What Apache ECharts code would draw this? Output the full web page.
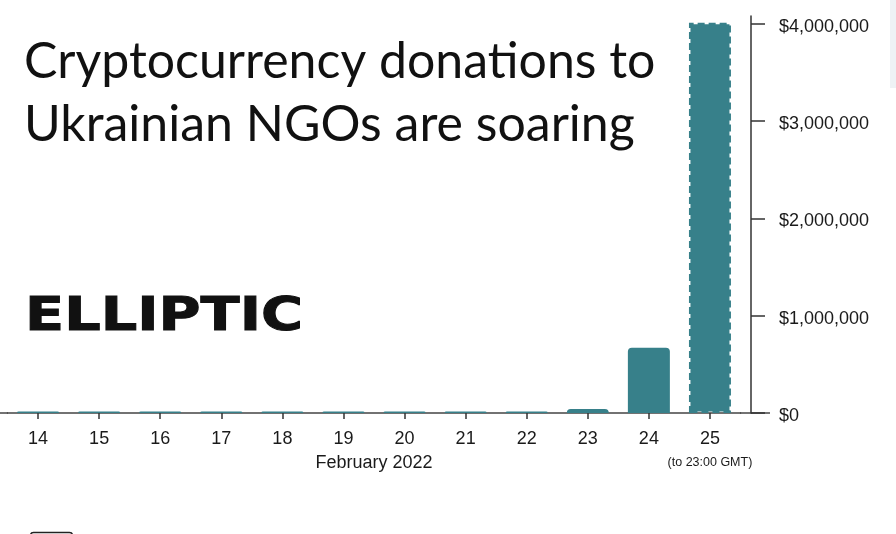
<!DOCTYPE html>
<html>
<head>
<meta charset="utf-8">
<script src="https://cdn.jsdelivr.net/npm/echarts@6/dist/echarts.min.js"></script>
<style>
html,body{margin:0;padding:0;background:#fff;}
#chart{width:896px;height:534px;}
</style>
</head>
<body>
<div id="chart"></div>
<script>
const days = ['14','15','16','17','18','19','20','21','22','23','24','25'];
const donations = [15000, 15000, 15000, 15000, 15000, 15000, 15000, 15000, 15000, 40000, 670000, 4010000];
const yTicks = [0, 1000000, 2000000, 3000000, 4000000];
const titleText = 'Cryptocurrency donations to\nUkrainian NGOs are soaring';
const xAxisName = 'February 2022';
const lastNote = '(to 23:00 GMT)';

const teal = '#37808a';
const chart = echarts.init(document.getElementById('chart'));

const fmt = v => '$' + v.toString().replace(/\B(?=(\d{3})+(?!\d))/g, ',');

const seriesData = donations.map((v, i) => {
  if (i === donations.length - 1) {
    return {
      value: v,
      itemStyle: {
        color: teal,
        borderColor: teal,
        borderWidth: 3,
        borderType: [7, 4],
        borderRadius: 0
      }
    };
  }
  return v;
});

chart.setOption({
  animation: false,
  backgroundColor: '#ffffff',
  grid: { left: 7.5, right: 155.5, top: 16, bottom: 121 },
  xAxis: {
    type: 'category',
    data: days,
    name: xAxisName,
    nameLocation: 'middle',
    nameGap: 41,
    nameMoveOverlap: false,
    nameTextStyle: { fontFamily: 'Liberation Sans', fontSize: 18, color: '#1a1a1a' },
    axisLine: { show: true, lineStyle: { color: '#444', width: 1.5 } },
    axisTick: { show: true, interval: 0, alignWithLabel: true, length: 6, lineStyle: { color: '#333', width: 1.5 } },
    axisLabel: {
      interval: 0,
      margin: 17,
      fontFamily: 'Liberation Sans',
      fontSize: 18,
      color: '#1a1a1a',
      formatter: (v, i) => i === days.length - 1 ? v + '\n{s|' + lastNote + '}' : v,
      rich: {
        s: { fontFamily: 'Liberation Sans', fontSize: 12.5, color: '#1a1a1a', padding: [8, 0, 0, 0] }
      }
    }
  },
  yAxis: {
    type: 'value',
    position: 'right',
    offset: 10.5,
    min: 0,
    max: 4080000,
    splitLine: { show: false },
    axisLine: { show: true, lineStyle: { color: '#333', width: 1.5 } },
    axisTick: { show: true, length: 14, customValues: yTicks, lineStyle: { color: '#333', width: 1.5 } },
    axisLabel: {
      customValues: yTicks,
      margin: 28,
      fontFamily: 'Liberation Sans',
      fontSize: 18,
      color: '#1a1a1a',
      formatter: v => '{a|' + fmt(v) + '}',
      rich: {
        a: { fontFamily: 'Liberation Sans', fontSize: 18, color: '#1a1a1a', padding: [6, 0, 0, 0] }
      }
    }
  },
  series: [{
    type: 'bar',
    data: seriesData,
    barWidth: 42,
    itemStyle: { color: teal, borderRadius: [4, 4, 0, 0] }
  }],
  graphic: [
    {
      type: 'text', left: 24, top: 30, silent: true,
      style: { text: titleText, fontFamily: 'Lato', fontSize: 50, lineHeight: 63, fill: '#111' }
    },
    {
      type: 'text', x: 25, y: 294, scaleX: 1.22, silent: true,
      style: { text: 'ELLIPTIC', fontFamily: 'DejaVu Sans', fontWeight: 'bold', fontSize: 47, fill: '#111', stroke: '#111', lineWidth: 1, textVerticalAlign: 'top' }
    },
    {
      type: 'rect', right: 0, top: 0, silent: true,
      shape: { width: 6, height: 88 },
      style: { fill: '#eef2f5' }
    },
    {
      type: 'rect', left: 28, top: 530, silent: true,
      shape: { width: 42, height: 12, r: 3 },
      style: { fill: 'none', stroke: '#222', lineWidth: 1.5 }
    }
  ]
});

// extend the baseline beyond the plot area, as in the reference
const p0 = chart.convertToPixel({ xAxisIndex: 0, yAxisIndex: 0 }, [0, 0]);
const y0 = p0[1];
chart.setOption({
  graphic: [
    {}, {}, {}, {},
    { type: 'line', silent: true, shape: { x1: 0, y1: y0, x2: 8, y2: y0 }, style: { stroke: '#444', lineWidth: 1.5 } },
    { type: 'line', silent: true, shape: { x1: 740, y1: y0, x2: 770, y2: y0 }, style: { stroke: '#444', lineWidth: 1.5 } }
  ]
});
</script>
</body>
</html>
